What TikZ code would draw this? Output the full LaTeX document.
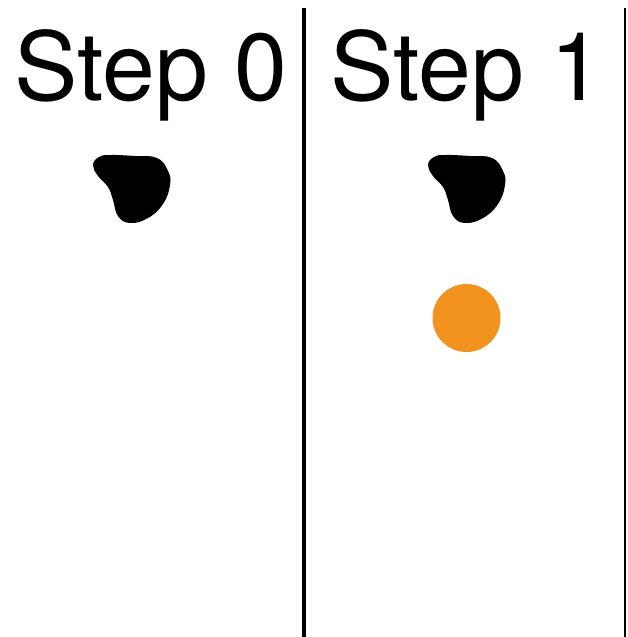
\documentclass[tikz,border=0pt]{standalone}
\usepackage{fontspec}
\setmainfont{TeX Gyre Heros}
\definecolor{dotorange}{HTML}{F3931F}
\tikzset{
  title/.style={font=\fontsize{95}{100}\selectfont, anchor=base, inner sep=0pt},
  divider/.style={draw=black, line width=#1},
  blob/.style={fill=black, draw=none},
}
\newcommand{\myblob}[1]{%
  \fill[blob, shift={(#1,0)}] plot[smooth cycle, tension=0.75] coordinates {
    (93,165) (99,157) (110,155) (135,156) (157,158) (168,171) (170,185)
    (163,204) (148,218) (130,223) (118,216) (113,200) (108,187) (98,176)};
}
\begin{document}
\begin{tikzpicture}[x=1pt,y=-1pt]
  \useasboundingbox (0,0) rectangle (627,637);
  \node[title] (t0) at (151,100) {Step 0};
  \node[title] (t1) at (467,100) {Step 1};
  \draw[divider=4pt] (304,8) -- (304,637);
  \draw[divider=2.4pt] (625,8) -- (625,637);
  \myblob{0}
  \myblob{335}
  \fill[dotorange] (466.5,318) circle (34);
\end{tikzpicture}
\end{document}
